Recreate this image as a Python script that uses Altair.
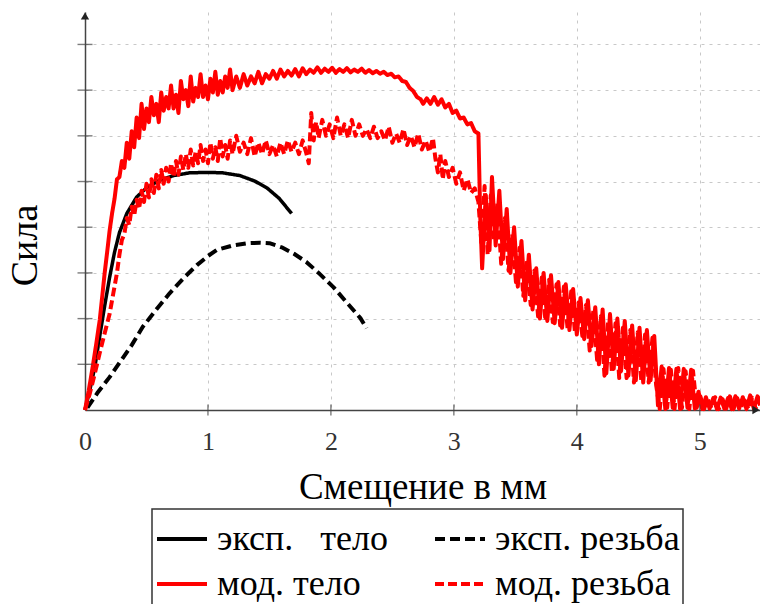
import altair as alt
import pandas as pd

# Series names; the legend fills column by column, two columns
SERIES = ["эксп.\u00a0\u00a0 тело", "мод. тело", "эксп. резьба", "мод. резьба"]
SERIES_COLORS = ["#000000", "#ff0000", "#000000", "#ff0000"]
SERIES_DASHES = [[1, 0], [1, 0], [10, 5], [9, 4]]

X_TICKS = [0, 1, 2, 3, 4, 5]
Y_GRID = [1, 2, 3, 4, 5, 6, 7, 8]
X_MAX = 5.49
Y_MAX = 8.71

# Experiment, specimen body: (displacement mm, force)
EXP_BODY = [
    (0.00, 0.00), (0.04, 0.45), (0.08, 0.94), (0.12, 1.62), (0.16, 2.28), (0.20, 2.90),
    (0.24, 3.45), (0.28, 3.88), (0.34, 4.30), (0.42, 4.66), (0.50, 4.86), (0.60, 5.02),
    (0.72, 5.13), (0.85, 5.19), (1.00, 5.20), (1.12, 5.19), (1.26, 5.13), (1.38, 5.01),
    (1.48, 4.86), (1.58, 4.63), (1.68, 4.30),
]

# Experiment, threaded specimen
EXP_THREAD = [
    (0.02, 0.05), (0.10, 0.37), (0.20, 0.72), (0.28, 1.03), (0.38, 1.42), (0.47, 1.82),
    (0.58, 2.20), (0.69, 2.56), (0.80, 2.88), (0.91, 3.17), (1.00, 3.37), (1.07, 3.50),
    (1.20, 3.60), (1.32, 3.65), (1.42, 3.66), (1.50, 3.65), (1.60, 3.56), (1.70, 3.42),
    (1.80, 3.24), (1.90, 3.00), (2.02, 2.69), (2.12, 2.38), (2.24, 2.01), (2.29, 1.79),
]

# Model, specimen body
MOD_BODY = [
    (0.000, 0.00), (0.030, 0.42), (0.060, 0.90), (0.090, 1.42), (0.120, 1.97), (0.140, 2.48),
    (0.160, 3.00), (0.180, 3.45), (0.200, 3.92), (0.220, 4.30), (0.240, 4.62), (0.260, 5.05),
    (0.280, 5.10), (0.300, 5.45), (0.320, 5.30), (0.340, 5.85), (0.360, 5.50), (0.380, 6.10),
    (0.400, 5.75), (0.420, 6.40), (0.440, 5.95), (0.460, 6.70), (0.480, 6.15), (0.500, 6.60),
    (0.520, 6.30), (0.540, 6.85), (0.560, 6.45), (0.580, 6.70), (0.600, 6.30), (0.620, 6.95),
    (0.640, 6.55), (0.660, 6.85), (0.680, 6.60), (0.700, 7.10), (0.720, 6.60), (0.740, 6.90),
    (0.760, 6.50), (0.780, 7.20), (0.800, 6.80), (0.820, 7.00), (0.840, 6.65), (0.860, 7.30),
    (0.880, 6.75), (0.900, 7.05), (0.920, 6.85), (0.940, 7.35), (0.960, 6.85), (0.980, 7.10),
    (1.000, 6.80), (1.020, 7.25), (1.040, 6.95), (1.060, 7.40), (1.080, 6.90), (1.100, 7.20),
    (1.120, 6.95), (1.140, 7.30), (1.160, 7.05), (1.180, 7.45), (1.200, 7.00), (1.230, 7.30),
    (1.260, 7.05), (1.290, 7.35), (1.320, 7.10), (1.350, 7.30), (1.380, 7.15), (1.410, 7.40),
    (1.440, 7.15), (1.470, 7.35), (1.500, 7.25), (1.530, 7.42), (1.560, 7.25), (1.590, 7.45),
    (1.620, 7.30), (1.650, 7.42), (1.680, 7.32), (1.710, 7.46), (1.740, 7.30), (1.770, 7.48),
    (1.800, 7.35), (1.830, 7.45), (1.860, 7.38), (1.890, 7.50), (1.920, 7.38), (1.950, 7.47),
    (1.980, 7.40), (2.010, 7.49), (2.040, 7.38), (2.070, 7.46), (2.100, 7.40), (2.130, 7.48),
    (2.160, 7.39), (2.190, 7.45), (2.220, 7.40), (2.250, 7.47), (2.280, 7.38), (2.310, 7.44),
    (2.340, 7.37), (2.370, 7.42), (2.400, 7.36), (2.430, 7.40), (2.460, 7.33), (2.490, 7.36),
    (2.520, 7.28), (2.550, 7.30), (2.580, 7.20), (2.610, 7.18), (2.640, 7.05), (2.670, 6.98),
    (2.700, 6.85), (2.730, 6.80), (2.750, 6.70), (2.780, 6.82), (2.810, 6.70), (2.840, 6.85),
    (2.870, 6.68), (2.900, 6.80), (2.930, 6.62), (2.960, 6.70), (2.990, 6.50), (3.020, 6.55),
    (3.050, 6.38), (3.080, 6.40), (3.110, 6.25), (3.140, 6.28), (3.170, 6.10), (3.200, 6.05),
    (3.215, 4.20), (3.230, 3.10), (3.260, 4.70), (3.290, 3.50), (3.310, 5.10), (3.340, 3.60),
    (3.370, 4.80), (3.400, 3.30), (3.430, 4.40), (3.460, 3.00), (3.490, 4.00), (3.520, 2.70),
    (3.550, 3.70), (3.580, 2.40), (3.610, 3.40), (3.640, 2.20), (3.670, 3.10), (3.700, 2.00),
    (3.730, 3.00), (3.760, 1.95), (3.790, 2.95), (3.820, 1.90), (3.850, 2.80), (3.880, 1.80),
    (3.910, 2.75), (3.940, 1.75), (3.970, 2.65), (4.000, 1.65), (4.030, 2.45), (4.060, 1.55),
    (4.090, 2.40), (4.120, 1.40), (4.150, 2.25), (4.180, 1.00), (4.210, 2.20), (4.240, 0.80),
    (4.270, 2.10), (4.300, 0.90), (4.330, 2.00), (4.360, 0.85), (4.390, 1.95), (4.420, 0.75),
    (4.450, 1.85), (4.480, 0.65), (4.510, 1.80), (4.540, 0.60), (4.570, 1.75), (4.600, 0.65),
    (4.630, 1.62), (4.660, 0.10), (4.690, 0.95), (4.720, 0.02), (4.750, 0.92), (4.780, 0.05),
    (4.810, 0.90), (4.840, 0.02), (4.870, 0.90), (4.900, 0.05), (4.930, 0.88), (4.960, 0.03),
    (4.990, 0.40), (5.020, 0.02), (5.050, 0.28), (5.080, 0.03), (5.110, 0.26), (5.140, 0.02),
    (5.170, 0.27), (5.200, 0.03), (5.230, 0.26), (5.260, 0.02), (5.290, 0.30), (5.320, 0.03),
    (5.350, 0.28), (5.380, 0.02), (5.410, 0.32), (5.440, 0.03), (5.470, 0.30), (5.490, 0.10),
]

# Model, threaded specimen
MOD_THREAD = [
    (0.000, 0.00), (0.040, 0.37), (0.080, 0.80), (0.120, 1.25), (0.160, 1.68), (0.200, 2.10),
    (0.230, 2.55), (0.260, 3.00), (0.280, 3.40), (0.300, 3.72), (0.320, 3.85), (0.340, 4.20),
    (0.360, 4.05), (0.380, 4.45), (0.400, 4.25), (0.420, 4.60), (0.440, 4.40), (0.460, 4.80),
    (0.480, 4.55), (0.500, 4.95), (0.520, 4.65), (0.540, 5.05), (0.560, 4.75), (0.580, 5.15),
    (0.600, 4.85), (0.620, 5.25), (0.640, 4.95), (0.660, 5.30), (0.680, 5.00), (0.700, 5.40),
    (0.720, 5.10), (0.740, 5.45), (0.760, 5.15), (0.780, 5.55), (0.800, 5.25), (0.820, 5.60),
    (0.840, 5.30), (0.860, 5.70), (0.880, 5.35), (0.900, 5.65), (0.920, 5.40), (0.940, 5.80),
    (0.960, 5.45), (0.980, 5.70), (1.000, 5.40), (1.020, 5.85), (1.040, 5.50), (1.060, 5.75),
    (1.080, 5.45), (1.100, 5.95), (1.120, 5.55), (1.140, 5.80), (1.160, 5.50), (1.180, 5.90),
    (1.200, 5.60), (1.230, 6.00), (1.260, 5.65), (1.290, 5.85), (1.320, 5.60), (1.350, 5.95),
    (1.380, 5.55), (1.410, 5.85), (1.440, 5.60), (1.470, 5.90), (1.500, 5.60), (1.530, 5.80),
    (1.560, 5.55), (1.590, 5.85), (1.620, 5.60), (1.650, 5.90), (1.680, 5.65), (1.710, 5.85),
    (1.740, 5.60), (1.770, 5.90), (1.800, 5.62), (1.820, 5.40), (1.840, 6.50), (1.860, 5.90),
    (1.880, 6.30), (1.900, 5.95), (1.930, 6.35), (1.960, 6.00), (1.990, 6.25), (2.020, 5.95),
    (2.050, 6.40), (2.080, 6.00), (2.110, 6.25), (2.140, 5.95), (2.170, 6.35), (2.200, 6.00),
    (2.230, 6.25), (2.260, 6.00), (2.290, 6.15), (2.320, 5.95), (2.350, 6.20), (2.380, 5.95),
    (2.410, 6.10), (2.440, 5.90), (2.470, 6.20), (2.500, 5.85), (2.530, 6.05), (2.560, 5.85),
    (2.590, 6.15), (2.620, 5.80), (2.650, 6.00), (2.680, 5.75), (2.710, 6.05), (2.740, 5.70),
    (2.770, 5.90), (2.800, 5.65), (2.830, 5.95), (2.850, 5.50), (2.870, 5.20), (2.890, 5.60),
    (2.910, 5.05), (2.930, 5.45), (2.960, 5.10), (2.990, 5.30), (3.020, 4.95), (3.050, 5.20),
    (3.080, 4.80), (3.110, 5.05), (3.140, 4.75), (3.170, 4.85), (3.200, 4.55), (3.225, 3.60),
    (3.250, 4.90), (3.275, 3.40), (3.300, 4.70), (3.325, 3.70), (3.355, 4.55), (3.385, 3.20),
    (3.415, 4.20), (3.445, 3.05), (3.475, 3.85), (3.505, 2.80), (3.535, 3.55), (3.565, 2.50),
    (3.595, 3.30), (3.625, 2.30), (3.655, 3.05), (3.685, 2.05), (3.715, 2.90), (3.745, 1.95),
    (3.775, 2.85), (3.805, 1.92), (3.835, 2.75), (3.865, 1.85), (3.895, 2.70), (3.925, 1.78),
    (3.955, 2.60), (3.985, 1.70), (4.015, 2.35), (4.045, 1.62), (4.075, 2.30), (4.105, 1.30),
    (4.135, 2.20), (4.165, 1.10), (4.195, 2.05), (4.225, 0.75), (4.255, 1.95), (4.285, 0.85),
    (4.315, 1.90), (4.345, 0.70), (4.375, 1.80), (4.405, 0.70), (4.435, 1.75), (4.465, 0.60),
    (4.495, 1.70), (4.525, 0.62), (4.555, 1.65), (4.585, 0.60), (4.615, 1.58), (4.645, 0.55),
    (4.675, 0.02), (4.705, 0.90), (4.735, 0.05), (4.765, 0.88), (4.795, 0.02), (4.825, 0.92),
    (4.855, 0.04), (4.885, 0.85), (4.915, 0.02), (4.945, 0.86), (4.975, 0.05), (5.005, 0.30),
    (5.035, 0.02), (5.065, 0.25), (5.095, 0.04), (5.125, 0.28), (5.155, 0.02), (5.185, 0.24),
    (5.215, 0.03), (5.245, 0.30), (5.275, 0.02), (5.305, 0.26), (5.335, 0.04), (5.365, 0.28),
    (5.395, 0.02), (5.425, 0.27), (5.455, 0.03), (5.485, 0.30),
]

SERIF = "Liberation Serif"
AXIS_GREY = "#444444"


def frame(points, name):
    return pd.DataFrame({
        "x": [p[0] for p in points],
        "y": [p[1] for p in points],
        "series": name,
        "order": list(range(len(points))),
    })


legend = alt.Legend(
    title=None, orient="none", legendX=67, legendY=497, columns=2,
    symbolType="stroke", symbolSize=2500, symbolStrokeWidth=4,
    labelFont=SERIF, labelFontSize=36, labelColor="#000000", labelLimit=0,
    labelOffset=8, padding=3, rowPadding=0, columnPadding=39,
    strokeColor="#333333", fillColor="#ffffff",
)
color = alt.Color("series:N", scale=alt.Scale(domain=SERIES, range=SERIES_COLORS), legend=legend)
dash = alt.StrokeDash("series:N", scale=alt.Scale(domain=SERIES, range=SERIES_DASHES), legend=legend)

x_enc = alt.X(
    "x:Q",
    scale=alt.Scale(domain=[0, X_MAX], nice=False, zero=False),
    axis=alt.Axis(
        values=X_TICKS, format="d", grid=True, gridDash=[3, 5], gridColor="#c8c8c8", gridWidth=1,
        ticks=False, domainColor=AXIS_GREY, domainWidth=1.5,
        labelFont=SERIF, labelFontSize=26, labelColor="#333333", labelPadding=18, labelFlush=False,
        title="Смещение в мм", titleFont=SERIF, titleFontSize=37, titleFontWeight="normal",
        titleColor="#000000", titleY=77, titleBaseline="middle",
    ),
)
y_enc = alt.Y(
    "y:Q",
    scale=alt.Scale(domain=[0, Y_MAX], nice=False, zero=False),
    axis=alt.Axis(
        values=Y_GRID, grid=True, gridDash=[3, 5], gridColor="#c8c8c8", gridWidth=1,
        ticks=False, labels=False, domainColor=AXIS_GREY, domainWidth=1.5,
        title="Сила", titleFont=SERIF, titleFontSize=38, titleFontWeight="normal",
        titleColor="#000000", titleX=-60, titleY=233, titleAngle=270,
        titleAlign="center", titleBaseline="middle",
    ),
)


def curve(points, name, width):
    return alt.Chart(frame(points, name)).mark_line(
        strokeWidth=width, strokeJoin="round", strokeCap="butt"
    ).encode(x=x_enc, y=y_enc, color=color, strokeDash=dash, order="order:Q")


exp_body = curve(EXP_BODY, SERIES[0], 3.5)
exp_thread = curve(EXP_THREAD, SERIES[2], 4)
mod_thread = curve(MOD_THREAD, SERIES[3], 4)
mod_body = curve(MOD_BODY, SERIES[1], 4)

# Tick marks crossing both axis lines
y_ticks = alt.Chart(pd.DataFrame({"y": Y_GRID, "x": [0] * len(Y_GRID)})).mark_tick(
    orient="horizontal", size=15, thickness=1.4, color=AXIS_GREY
).encode(x="x:Q", y="y:Q")
x_ticks = alt.Chart(pd.DataFrame({"x": X_TICKS[1:], "y": [0] * (len(X_TICKS) - 1)})).mark_tick(
    orient="vertical", size=11, thickness=1.4, color=AXIS_GREY
).encode(x="x:Q", y="y:Q")

# Arrow heads at the axis ends
arrow_up = alt.Chart(pd.DataFrame({"x": [0], "y": [Y_MAX]})).mark_point(
    shape="triangle-up", filled=True, size=70, color="#222222", opacity=1, yOffset=4
).encode(x="x:Q", y="y:Q")
arrow_right = alt.Chart(pd.DataFrame({"x": [X_MAX], "y": [0]})).mark_point(
    shape="triangle-right", filled=True, size=70, color="#222222", opacity=1, xOffset=-4
).encode(x="x:Q", y="y:Q")

chart = alt.layer(
    exp_body, exp_thread, mod_thread, mod_body, y_ticks, x_ticks, arrow_up, arrow_right
).properties(
    width=675, height=398,
    autosize=alt.AutoSizeParams(type="none"),
    padding={"left": 85, "top": 12, "right": 0, "bottom": 194},
    background="#ffffff",
).configure_view(stroke=None).configure_legend(strokeWidth=1.5)

chart.save("out.html", embed_options={"renderer": "svg", "actions": False})
